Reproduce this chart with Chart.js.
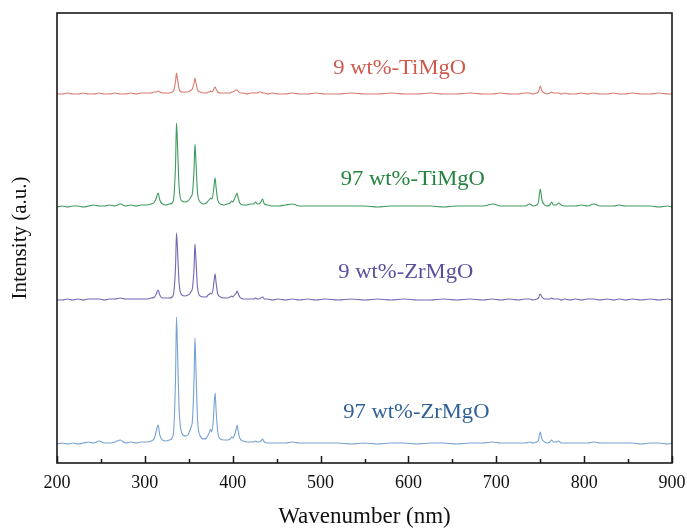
<!DOCTYPE html>
<html>
<head>
<meta charset="utf-8">
<script src="https://cdn.jsdelivr.net/npm/chart.js@4/dist/chart.umd.min.js"></script>
<style>
html,body{margin:0;padding:0;background:#fff;}
canvas{display:block;}
</style>
</head>
<body>
<canvas id="c" width="687" height="531"></canvas>
<script>
// Wavenumber grid (nm) shared by all spectra
const wavenumbers = [200,206,212,218,224,230,236,242,248,254,260,266,272,278,284,290,296,302,307,311,313,315,317,320,324,328,331,333,335,336,337,339,342,346,349,351,353,354,356,357,358,360,363,367,370,372,374,375,376,378,379,380,381,383,386,390,394,397,399,400,402,404,405,406,408,412,416,420,424,426,428,430,432,434,436,440,445,452,460,468,476,485,495,505,520,535,550,565,580,595,610,625,640,655,670,685,696,705,715,725,733,738,742,746,748,750,752,755,758,761,763,765,768,771,774,778,784,790,797,804,811,818,826,834,840,847,855,865,875,885,895,900];

// Intensities (a.u.) above each spectrum's own baseline
const ti9 = [0,0,1,0,0,1,0,0,1,0,0,1,0,0,1,0,1,1,1,2,2,3,2,1,1,1,2,4,13,21,16,5,2,2,2,3,4,5,11,16,12,4,2,1,1,2,2,3,2,4,6,7,5,2,1,1,1,1,2,2,3,4,4,3,1,1,0,1,1,1,1,2,2,1,1,0,1,0,0,1,0,0,1,0,0,1,0,0,1,0,0,1,0,0,1,0,0,1,0,0,1,1,0,1,2,8,3,1,0,1,2,1,1,1,0,1,0,0,1,0,1,0,0,1,0,0,1,0,0,1,0,0];
const ti97 = [0,1,0,1,1,0,1,2,1,1,2,1,3,1,2,1,2,2,3,5,9,14,7,3,2,3,4,10,45,84,66,20,6,5,6,8,11,13,38,63,48,14,5,3,4,6,8,9,8,15,24,29,20,7,3,2,3,4,6,5,8,12,14,10,4,2,2,3,3,5,3,3,5,8,3,2,1,1,2,3,1,1,1,1,1,1,1,0,1,1,1,1,0,1,1,1,3,1,1,1,1,3,1,2,5,18,7,2,1,2,5,2,2,4,2,1,1,1,2,1,3,1,1,1,2,1,1,1,1,0,1,0];
const zr9 = [0,0,1,0,1,0,1,1,1,0,1,1,2,1,1,1,1,1,2,3,6,10,5,2,2,2,3,8,35,67,53,17,5,4,5,6,9,11,32,56,43,12,4,3,3,5,6,7,6,13,21,26,18,6,3,2,2,3,4,3,5,7,9,7,3,1,1,1,1,2,1,1,2,3,1,1,0,1,0,1,0,1,0,1,0,1,0,1,0,1,0,0,1,0,1,0,1,0,1,0,1,1,0,1,2,6,3,1,1,1,2,1,1,1,0,1,0,1,0,1,1,0,1,0,1,0,1,0,1,0,1,0];
const zr97 = [0,1,0,1,0,1,2,1,3,1,1,2,4,1,2,1,2,2,3,6,13,19,9,4,3,4,6,16,70,127,100,35,11,8,9,13,18,22,65,106,80,24,8,5,6,9,13,15,12,25,42,51,35,12,5,4,4,5,7,6,9,15,19,14,6,3,2,2,2,3,2,2,3,5,2,1,1,1,1,2,1,1,1,1,1,0,1,0,1,1,0,1,1,0,1,1,2,1,1,1,1,2,1,2,4,12,5,2,1,2,4,2,2,3,1,1,1,1,1,1,2,1,1,1,1,1,1,0,1,1,0,1];

// Series names, in stacking order from top to bottom
const seriesNames = ['9 wt%-TiMgO', '97 wt%-TiMgO', '9 wt%-ZrMgO', '97 wt%-ZrMgO'];
const seriesValues = [ti9, ti97, zr9, zr97];

// Tick labels
const majorTicks = [200,300,400,500,600,700,800,900];
const minorTicks = [250,350,450,550,650,750,850];

// ---- presentation (not data) ----
const stackOffsets = [369, 256, 163, 19];
const lineColors = ['#d9786c', '#3f9a5e', '#7068b2', '#76a2d4'];
const textColors = ['#cf5a4c', '#23843f', '#5c4e9e', '#2f6198'];
const labelAnchors = [[590, 394], [605, 283], [597, 190], [609, 50]];
const SERIF = '"Liberation Serif","Times New Roman",serif';

const datasets = seriesValues.map((vals, i) => ({
  label: seriesNames[i],
  data: wavenumbers.map((w, k) => ({x: w, y: vals[k] + stackOffsets[i]})),
  borderColor: lineColors[i],
  borderWidth: 1.1,
  pointRadius: 0,
  fill: false,
  cubicInterpolationMode: 'monotone'
}));

const overlay = {
  id: 'overlay',
  afterDraw(chart) {
    const {ctx, chartArea: a, scales: {x, y}} = chart;
    ctx.save();
    // series labels
    seriesNames.forEach((name, i) => {
      const px = x.getPixelForValue(labelAnchors[i][0]);
      const py = y.getPixelForValue(labelAnchors[i][1]);
      ctx.save();
      ctx.translate(px, py);
      ctx.scale(1.13, 1);
      ctx.font = '20px ' + SERIF;
      ctx.fillStyle = textColors[i];
      ctx.textAlign = 'center';
      ctx.textBaseline = 'middle';
      ctx.fillText(name, 0, 0);
      ctx.restore();
    });
    // frame
    ctx.strokeStyle = '#1a1a1a';
    ctx.lineWidth = 1.6;
    ctx.strokeRect(a.left, a.top, a.right - a.left, a.bottom - a.top);
    // inward ticks on the bottom axis
    ctx.lineWidth = 1.5;
    ctx.beginPath();
    majorTicks.forEach(v => {
      const px = Math.round(x.getPixelForValue(v)) + 0.5;
      ctx.moveTo(px, a.bottom); ctx.lineTo(px, a.bottom - 7);
    });
    minorTicks.forEach(v => {
      const px = Math.round(x.getPixelForValue(v)) + 0.5;
      ctx.moveTo(px, a.bottom); ctx.lineTo(px, a.bottom - 4);
    });
    ctx.stroke();
    ctx.restore();
  }
};

new Chart(document.getElementById('c'), {
  type: 'line',
  data: {datasets},
  options: {
    responsive: false,
    animation: false,
    devicePixelRatio: 1,
    layout: {padding: {top: 13, right: 15, left: 0, bottom: 0}},
    plugins: {legend: {display: false}, tooltip: {enabled: false}},
    scales: {
      x: {
        type: 'linear', min: 200, max: 900,
        afterBuildTicks: s => { s.ticks = majorTicks.map(v => ({value: v})); },
        ticks: {color: '#111', font: {family: SERIF, size: 18}, padding: 9, maxRotation: 0},
        grid: {display: false, drawTicks: false},
        border: {display: false},
        title: {display: true, text: 'Wavenumber (nm)', color: '#111', font: {family: SERIF, size: 23}, padding: 0},
        afterFit: s => { s.height = 68; s.paddingLeft = 0; s.paddingRight = 0; }
      },
      y: {
        min: 0, max: 450,
        ticks: {display: false},
        grid: {display: false, drawTicks: false},
        border: {display: false},
        title: {display: true, text: 'Intensity (a.u.)', color: '#111', font: {family: SERIF, size: 21}, padding: {top: 8, bottom: 0}},
        afterFit: s => { s.width = 57; s.paddingTop = 0; s.paddingBottom = 0; }
      }
    }
  },
  plugins: [overlay]
});
</script>
</body>
</html>
